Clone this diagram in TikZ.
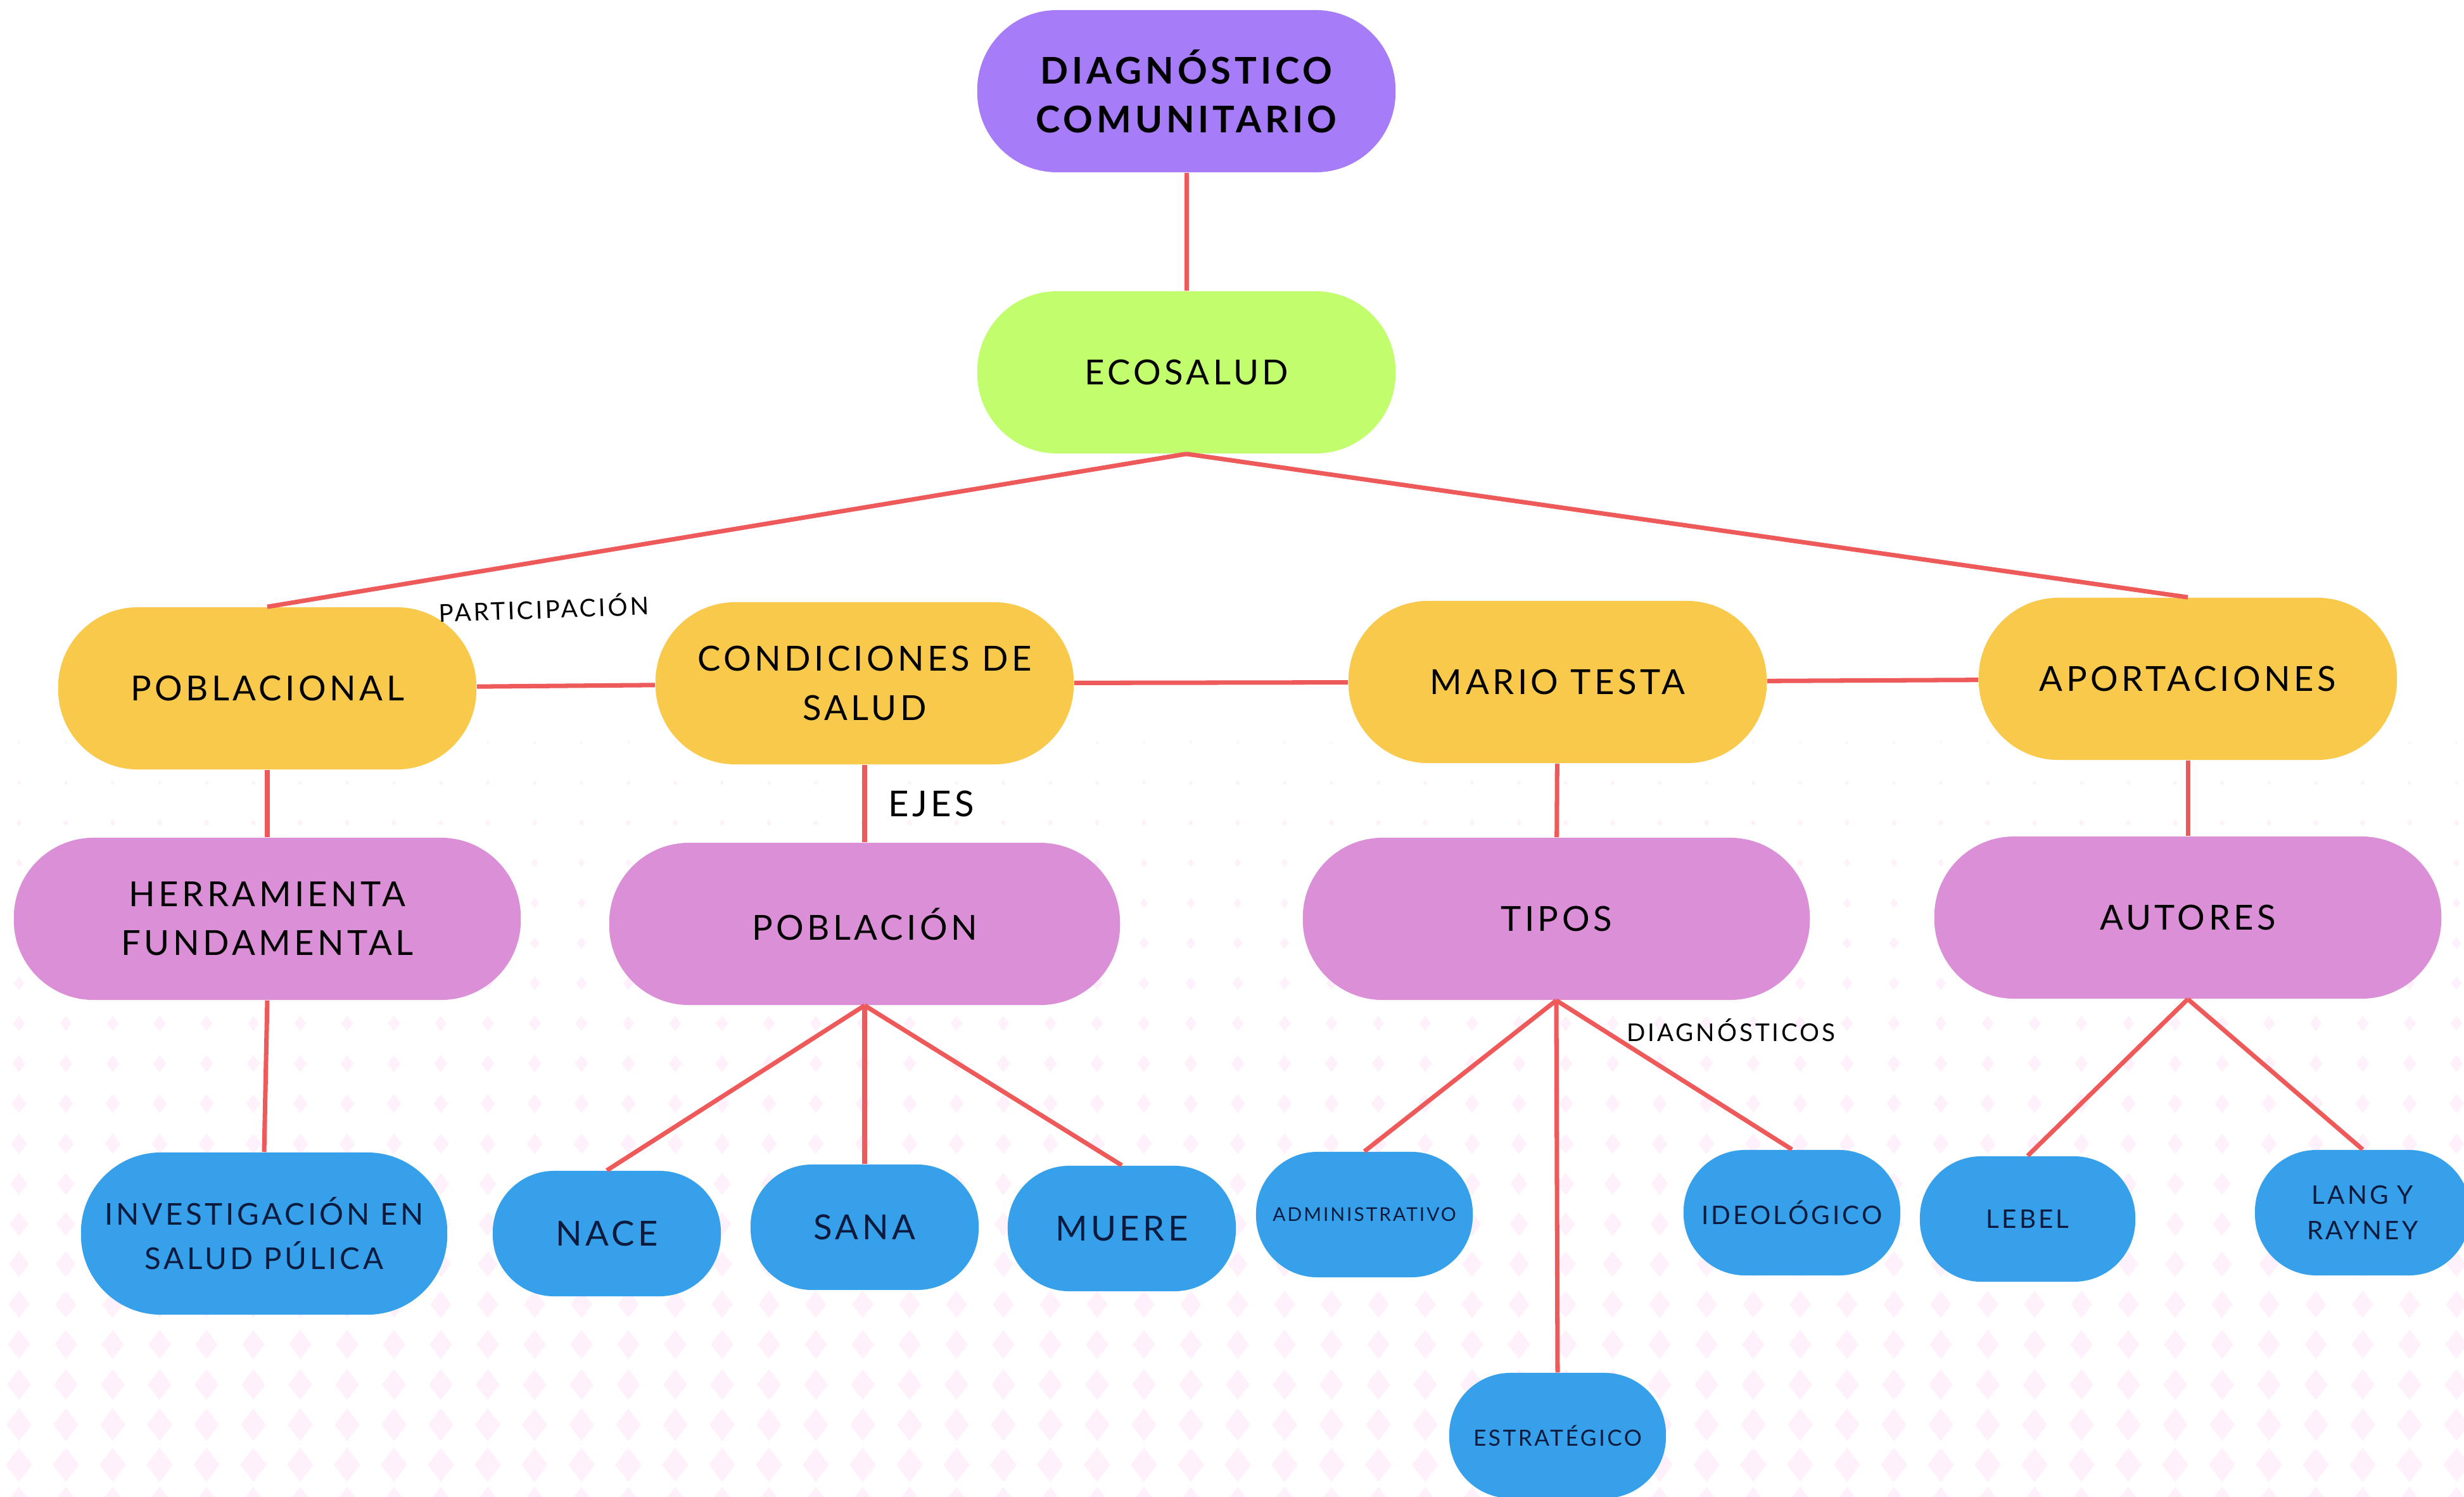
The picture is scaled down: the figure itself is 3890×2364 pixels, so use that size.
\documentclass[tikz,border=0pt]{standalone}
\usepackage{fontspec}
\setmainfont{Lato}[LetterSpace=10]
\usetikzlibrary{positioning}

\definecolor{morado}{HTML}{A77CF8}
\definecolor{verde}{HTML}{C1FD6D}
\definecolor{amarillo}{HTML}{F9C94B}
\definecolor{rosa}{HTML}{DA8FD6}
\definecolor{azul}{HTML}{36A1EA}
\definecolor{linea}{HTML}{EE5A5A}
\definecolor{fondo}{HTML}{FEF1FC}
\definecolor{tinta}{HTML}{0C1B3D}

\begin{document}
\begin{tikzpicture}[x=0.01cm,y=-0.01cm,
    caja/.style={rounded corners=1.26cm, minimum width=6.6cm, minimum height=2.56cm,
      align=center, inner sep=0pt, text=black, font=\fontsize{15.5}{22}\selectfont},
    hoja/.style={caja, fill=azul, text=tinta, rounded corners=0.97cm,
      minimum width=3.6cm, minimum height=1.98cm},
    etiqueta/.style={font=\fontsize{11}{13}\selectfont, inner sep=1pt},
    con/.style={draw=linea, line width=2pt}]
  \useasboundingbox (0,0) rectangle (3890,2364);
  \fill[white] (0,0) rectangle (3890,2364);

  % Fondo de rombos
  \foreach \f in {0,...,19}{
    \pgfmathsetmacro\yy{1170+62*\f}
    \pgfmathsetmacro\s{2+1.05*\f}
    \foreach \c in {0,...,52}
      \fill[fondo] ({30+74*\c},\yy) -- ++(\s,1.3*\s) -- ++(-\s,1.3*\s) -- ++(-\s,-1.3*\s) -- cycle;
  }

  % Nodos
  \node[caja, fill=morado, font=\bfseries\fontsize{16.5}{22}\selectfont] (diag) at (1873,144) {DIAGNÓSTICO\\COMUNITARIO};
  \node[caja, fill=verde] (eco) at (1873,588) {ECOSALUD};

  \node[caja, fill=amarillo] (pobl) at (422,1087) {POBLACIONAL};
  \node[caja, fill=amarillo] (cond) at (1365,1079) {CONDICIONES DE\\SALUD};
  \node[caja, fill=amarillo] (mario) at (2459,1077) {MARIO TESTA};
  \node[caja, fill=amarillo] (aport) at (3454,1072) {APORTACIONES};

  \node[caja, fill=rosa, minimum width=8cm] (herr) at (422,1451) {HERRAMIENTA\\FUNDAMENTAL};
  \node[caja, fill=rosa, minimum width=8.06cm] (pobla) at (1365,1459) {POBLACIÓN};
  \node[caja, fill=rosa, minimum width=8cm] (tipos) at (2457,1451) {TIPOS};
  \node[caja, fill=rosa, minimum width=8cm] (autor) at (3454,1449) {AUTORES};

  \node[hoja, minimum width=5.78cm, minimum height=2.56cm, rounded corners=1.26cm,
    font=\fontsize{13.5}{20}\selectfont] (inv) at (417,1948) {INVESTIGACIÓN EN\\SALUD PÚLICA};
  \node[hoja] (nace) at (958,1948) {NACE};
  \node[hoja] (sana) at (1365,1938) {SANA};
  \node[hoja] (muere) at (1771,1940) {MUERE};
  \node[hoja, minimum width=3.42cm, font=\fontsize{8.5}{10}\selectfont] (admin) at (2154,1918) {ADMINISTRATIVO};
  \node[hoja, minimum width=3.42cm, font=\fontsize{10}{12}\selectfont] (estrat) at (2459,2267) {ESTRATÉGICO};
  \node[hoja, minimum width=3.42cm, font=\fontsize{11.5}{16}\selectfont] (ideo) at (2829,1915) {IDEOLÓGICO};
  \node[hoja, minimum width=3.4cm, font=\fontsize{11.5}{16}\selectfont] (lebel) at (3201,1925) {LEBEL};
  \node[hoja, minimum width=3.4cm, font=\fontsize{11.5}{16}\selectfont] (lang) at (3730,1915) {LANG Y\\RAYNEY};

  % Conectores
  \draw[con] (diag) -- (eco);
  \draw[con] (eco.south) -- (pobl.north)
    node[etiqueta, pos=0.7, below=0.48cm, rotate=2] (partic) {PARTICIPACIÓN};
  \draw[con] (eco.south) -- (aport.north);
  \draw[con] (pobl) -- (cond);
  \draw[con] (cond) -- (mario);
  \draw[con] (mario) -- (aport);

  \draw[con] (pobl) -- (herr);
  \draw[con] (cond) -- (pobla)
    node[midway, right=0.3cm, font=\fontsize{16}{18}\selectfont, inner sep=1pt] (ejes) {EJES};
  \draw[con] (mario) -- (tipos);
  \draw[con] (aport) -- (autor);

  \draw[con] (herr.south) -- (inv.north);
  \draw[con] (pobla.south) -- (nace.north);
  \draw[con] (pobla.south) -- (sana.north);
  \draw[con] (pobla.south) -- (muere.north);
  \draw[con] (tipos.south) -- (admin.north);
  \draw[con] (tipos.south) -- (estrat.north);
  \draw[con] (tipos.south) -- (ideo.north)
    node[etiqueta, pos=0.2, right=0.3cm] (diagn) {DIAGNÓSTICOS};
  \draw[con] (autor.south) -- (lebel.north);
  \draw[con] (autor.south) -- (lang.north);
\end{tikzpicture}
\end{document}
